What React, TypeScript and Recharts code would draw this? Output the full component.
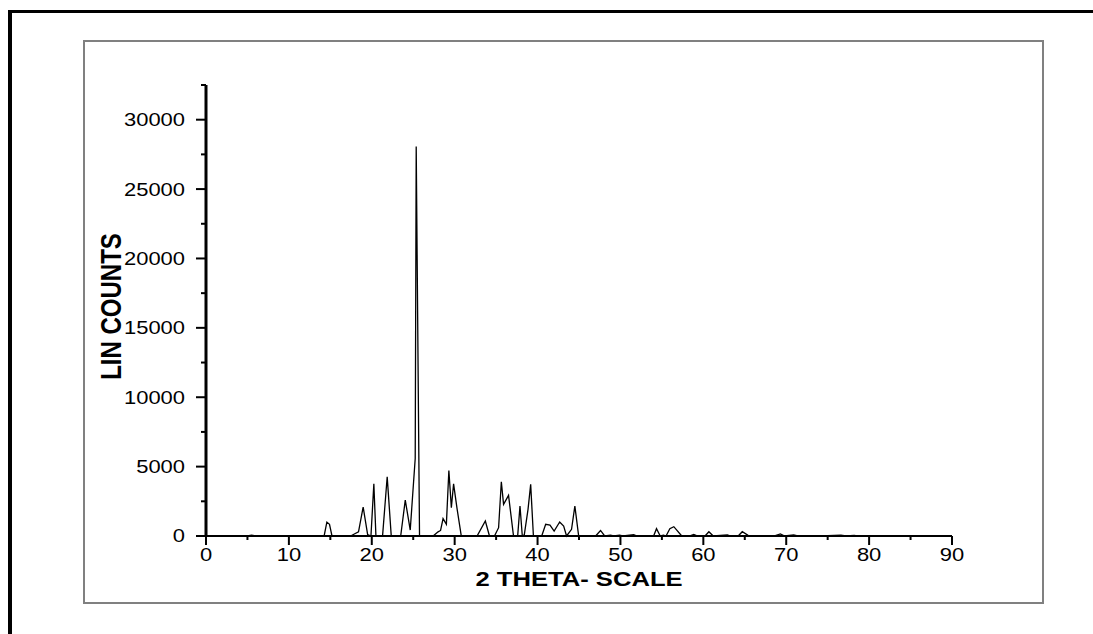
import { LineChart, Line, XAxis, YAxis } from 'recharts';

// 2-theta positions and intensities
const THETA = [
  5, 5.5, 6, 13.8, 14.25, 14.58, 14.9, 15.2, 16, 17.5, 18.4, 18.96, 19.5, 19.9, 20.25, 20.5, 21.3, 21.86,
  22.35, 23.1, 23.5, 24.04, 24.64, 25.24, 25.36, 25.76, 27.4, 28.0, 28.3, 28.6, 29.0, 29.3, 29.6, 29.87,
  30.27, 30.8, 32.7, 33.7, 34.2, 34.8, 35.3, 35.63, 35.9, 36.5, 37.1, 37.6, 37.88, 38.16, 38.4, 38.85,
  39.17, 39.5, 40.5, 40.98, 41.5, 42.0, 42.67, 43.15, 43.5, 44.1, 44.5, 44.96, 47.0, 47.6, 48.1, 48.8,
  49.2, 49.9, 50.3, 51.6, 52, 54.0, 54.35, 54.8, 55.2, 55.5, 55.96, 56.44, 57.4, 58.3, 58.85, 59.3,
  60.2, 60.67, 61.2, 62.9, 63.3, 64.2, 64.7, 65.4, 66, 67.5, 68.5, 69.3, 69.8, 70.9, 71.4, 73, 75, 76.6,
  77.2, 78.2, 78.6,
];
const COUNTS = [
  0, 60, 0, 0, 0, 1000, 840, 0, 30, 20, 300, 2090, 100, 0, 3760, 0, 0, 4270,
  0, 0, 50, 2590, 430, 5590, 28060, 0, 0, 300, 400, 1250, 840, 4720, 2040, 3760,
  2040, 0, 0, 1080, 0, 0, 600, 3910, 2280, 2930, 0, 0, 2160, 0, 80, 1920,
  3720, 0, 0, 840, 790, 360, 1010, 720, 0, 480, 2160, 0, 0, 400, 0, 60,
  0, 60, 0, 100, 0, 0, 530, 0, 60, 0, 530, 670, 0, 0, 120, 0,
  0, 310, 0, 70, 0, 0, 310, 50, 0, 30, 0, 150, 0, 80, 0, 20, 30, 70,
  0, 50, 0,
];

const X_TICKS = [0, 5, 10, 15, 20, 25, 30, 35, 40, 45, 50, 55, 60, 65, 70, 75, 80, 85, 90];
const Y_TICKS = [0, 2500, 5000, 7500, 10000, 12500, 15000, 17500, 20000, 22500, 25000, 27500, 30000, 32500];

const data = THETA.map((x, i) => ({ x, y: COUNTS[i] }));

const FONT = 'Arial, "Liberation Sans", sans-serif';
const STRETCH = 1.22;

function YTick(props: any) {
  const { x, y, payload } = props;
  const major = payload.value % 5000 === 0;
  return (
    <g>
      <line x1={x} x2={x - (major ? 10 : 5)} y1={y} y2={y} stroke="#000" strokeWidth={2} />
      {major && (
        <text
          transform={`translate(${x - 21},${y}) scale(${STRETCH},1)`}
          textAnchor="end"
          dy="0.36em"
          fontSize={18}
          fontFamily={FONT}
          fill="#000"
        >
          {payload.value}
        </text>
      )}
    </g>
  );
}

function XTick(props: any) {
  const { x, y, payload } = props;
  const major = payload.value % 10 === 0;
  return (
    <g>
      <line x1={x} x2={x} y1={y} y2={y + (major ? 9 : 4)} stroke="#000" strokeWidth={2} />
      {major && (
        <text
          transform={`translate(${x},${y + 19}) scale(${STRETCH},1)`}
          textAnchor="middle"
          dy="0.36em"
          fontSize={18}
          fontFamily={FONT}
          fill="#000"
        >
          {payload.value}
        </text>
      )}
    </g>
  );
}

export default function App() {
  return (
    <div style={{ position: 'fixed', left: 0, top: 0, width: 1093, height: 634, overflow: 'hidden', background: '#fff' }}>
      <div
        style={{
          position: 'absolute',
          left: 8,
          top: 10,
          width: 1200,
          height: 700,
          borderLeft: '4px solid #000',
          borderTop: '3px solid #000',
        }}
      />
      <div
        style={{
          position: 'absolute',
          left: 83,
          top: 40,
          width: 957,
          height: 560,
          border: '2px solid #808080',
        }}
      />
      <div style={{ position: 'absolute', left: 8, top: 8 }}>
        <LineChart width={1085} height={626} data={data} margin={{ top: 77, right: 141, bottom: 48, left: 0 }}>
          <XAxis
            type="number"
            dataKey="x"
            domain={[0, 90]}
            ticks={X_TICKS}
            interval={0}
            height={50}
            tickSize={0}
            tickMargin={0}
            tickLine={false}
            axisLine={{ stroke: '#000', strokeWidth: 2 }}
            tick={(p: any) => <XTick {...p} />}
            label={{
              content: (p: any) => {
                const vb = p.viewBox;
                return (
                  <text
                    transform={`translate(${vb.x + vb.width / 2},${vb.y + 42}) scale(${STRETCH},1)`}
                    textAnchor="middle"
                    dy="0.36em"
                    fontSize={21}
                    fontWeight="bold"
                    fontFamily={FONT}
                    fill="#000"
                  >
                    2 THETA- SCALE
                  </text>
                );
              },
            }}
          />
          <YAxis
            type="number"
            domain={[0, 32500]}
            ticks={Y_TICKS}
            interval={0}
            width={198}
            tickSize={0}
            tickMargin={0}
            tickLine={false}
            axisLine={{ stroke: '#000', strokeWidth: 3 }}
            tick={(p: any) => <YTick {...p} />}
            label={{
              content: (p: any) => {
                const vb = p.viewBox;
                const cx = vb.x + 102;
                const cy = vb.y + vb.height / 2 - 4;
                return (
                  <text
                    transform={`translate(${cx},${cy}) scale(${STRETCH},1) rotate(-90)`}
                    textAnchor="middle"
                    dy="0.36em"
                    fontSize={24}
                    fontWeight="bold"
                    fontFamily={FONT}
                    fill="#000"
                  >
                    LIN COUNTS
                  </text>
                );
              },
            }}
          />
          <Line
            type="linear"
            dataKey="y"
            stroke="#000"
            strokeWidth={1.3}
            dot={false}
            activeDot={false}
            isAnimationActive={false}
          />
        </LineChart>
      </div>
    </div>
  );
}
